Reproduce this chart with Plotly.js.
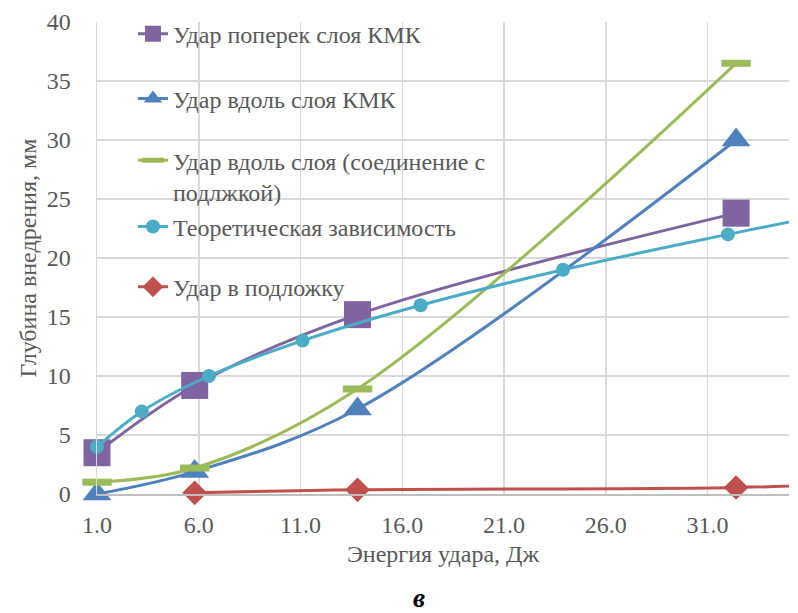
<!DOCTYPE html>
<html>
<head>
<meta charset="utf-8">
<script src="https://cdn.plot.ly/plotly-3.0.1.min.js"></script>
<style>
  html, body { margin: 0; padding: 0; background: #fff; }
  #chart { width: 798px; height: 613px; }
</style>
</head>
<body>
<div id="chart"></div>
<script>
// Impact energy, J (shared by the three experimental series)
const energy = [1.0, 5.8, 13.8, 32.4];
// Penetration depth, mm
const depthAcross = [3.5, 9.2, 15.2, 23.8];      // across the KMK layer
const depthAlong = [0.0, 1.9, 7.2, 30.0];        // along the KMK layer
const depthAlongJoint = [1.0, 2.2, 8.9, 36.5];   // along the layer, joint with substrate

// Theoretical dependence
const energyTheory = [1.0, 3.2, 6.5, 11.1, 16.9, 23.9, 32.0, 40.0];
const depthTheory = [4.0, 7.0, 10.0, 13.0, 16.0, 19.0, 22.0, 24.8];

// Impact into the substrate
const energySubstrate = [5.8, 13.8, 32.4, 40.0];
const depthSubstrate = [0.1, 0.35, 0.55, 1.0];

const seriesNames = [
  'Удар поперек слоя КМК',
  'Удар вдоль слоя КМК',
  'Удар вдоль слоя (соединение с<br>подлжкой)',
  'Теоретическая зависимость',
  'Удар в подложку'
];
const xTicks = [1, 6, 11, 16, 21, 26, 31];

const FONT = 'Liberation Serif, Times New Roman, serif';
const TXT = '#595959';
const FS = 24;

function series(x, y, name, color, symbol, size, legendId, extra) {
  const t = {
    type: 'scatter', mode: 'lines+markers', x: x, y: y, name: name,
    legend: legendId,
    line: { color: color, width: 3, shape: 'spline', smoothing: 1 },
    marker: { color: color, symbol: symbol, size: size, line: { width: 0 } },
    cliponaxis: false
  };
  return Object.assign(t, extra || {});
}

const traces = [
  series(energy, depthAcross, seriesNames[0], '#8064A2', 'square', 27, 'legend'),
  series(energy, depthAlong, seriesNames[1], '#4F81BD', 'triangle-up', 25, 'legend2'),
  series(energy, depthAlongJoint, seriesNames[2], '#9BBB59', 'line-ew', 21, 'legend3',
    { marker: { color: '#9BBB59', symbol: 'line-ew', size: 21, line: { color: '#9BBB59', width: 7 } } }),
  series(energyTheory, depthTheory, seriesNames[3], '#4BACC6', 'circle', 14, 'legend4'),
  series(energySubstrate, depthSubstrate, seriesNames[4], '#C0504D', 'diamond', 19, 'legend5')
];

// One legend box per series so each entry sits at its own height
function legendAt(y, anchor) {
  return {
    x: 0.052, y: y, xanchor: 'left', yanchor: anchor || 'middle',
    bgcolor: 'rgba(0,0,0,0)', borderwidth: 0,
    font: { family: FONT, size: FS, color: TXT },
    valign: 'top', itemsizing: 'trace'
  };
}

const layout = {
  width: 798, height: 613,
  margin: { l: 97, r: 9, t: 22, b: 119 },
  paper_bgcolor: '#fff', plot_bgcolor: '#fff',
  font: { family: FONT, size: FS, color: TXT },
  showlegend: true,
  legend: legendAt(0.974),
  legend2: legendAt(0.837),
  legend3: legendAt(0.754, 'top'),
  legend4: legendAt(0.566),
  legend5: legendAt(0.438),
  xaxis: {
    range: [1, 35], tickvals: xTicks, tickformat: '.1f',
    showgrid: true, gridcolor: '#D9D9D9', gridwidth: 1.5,
    zeroline: false, showline: true, linecolor: '#BFBFBF', linewidth: 1.5,
    ticks: '', ticklabelstandoff: 9,
    tickfont: { family: FONT, size: FS, color: TXT },
    title: { text: 'Энергия удара, Дж', font: { family: FONT, size: FS, color: TXT }, standoff: 8 }
  },
  yaxis: {
    range: [0, 40], dtick: 5,
    showgrid: true, gridcolor: '#D9D9D9', gridwidth: 1.5,
    zeroline: false, showline: true, linecolor: '#D9D9D9', linewidth: 1.5,
    ticks: '', ticklabelstandoff: 20,
    tickfont: { family: FONT, size: FS, color: TXT },
    title: { text: 'Глубина внедрения, мм', font: { family: FONT, size: FS, color: TXT }, standoff: 3 }
  },
  annotations: [{
    xref: 'paper', yref: 'paper', x: 0.465, y: -0.22, yanchor: 'middle',
    text: '<b><i>в</i></b>', showarrow: false,
    font: { family: FONT, size: 27, color: '#000' }
  }]
};

Plotly.newPlot('chart', traces, layout, { displayModeBar: false, staticPlot: true });
</script>
</body>
</html>
